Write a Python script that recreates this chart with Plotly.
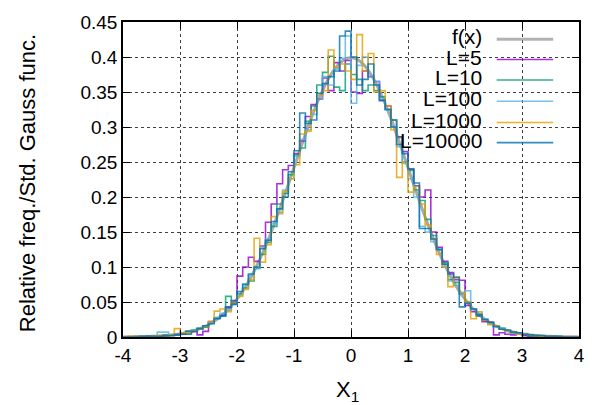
import plotly.graph_objects as go

# ---------------- data ----------------
bin_edges = [round(-4.0 + 0.1 * i, 1) for i in range(81)]

# standard Gauss function sampled at 0.1 steps (-4 ... 4)
f_x = bin_edges
f_y = [0.0001, 0.0002, 0.0003, 0.0004, 0.0006, 0.0009, 0.0012, 0.0017, 0.0024, 0.0033,
       0.0044, 0.0060, 0.0079, 0.0104, 0.0136, 0.0175, 0.0224, 0.0283, 0.0355, 0.0440,
       0.0540, 0.0656, 0.0790, 0.0940, 0.1109, 0.1295, 0.1497, 0.1714, 0.1942, 0.2179,
       0.2420, 0.2661, 0.2897, 0.3123, 0.3332, 0.3521, 0.3683, 0.3814, 0.3910, 0.3970,
       0.3989,
       0.3970, 0.3910, 0.3814, 0.3683, 0.3521, 0.3332, 0.3123, 0.2897, 0.2661, 0.2420,
       0.2179, 0.1942, 0.1714, 0.1497, 0.1295, 0.1109, 0.0940, 0.0790, 0.0656, 0.0540,
       0.0440, 0.0355, 0.0283, 0.0224, 0.0175, 0.0136, 0.0104, 0.0079, 0.0060, 0.0044,
       0.0033, 0.0024, 0.0017, 0.0012, 0.0009, 0.0006, 0.0004, 0.0003, 0.0002, 0.0001]

# relative frequency per bin (bin width 0.1, from -4 to 4)
L5 = [0.000, 0.000, 0.000, 0.000, 0.001, 0.001, 0.001, 0.002, 0.003, 0.004,
      0.004, 0.008, 0.008, 0.003, 0.008, 0.022, 0.027, 0.031, 0.043, 0.052,
      0.087, 0.100, 0.114, 0.108, 0.130, 0.164, 0.190, 0.219, 0.239, 0.245,
      0.262, 0.280, 0.315, 0.332, 0.340, 0.370, 0.352, 0.392, 0.380, 0.395,
      0.350, 0.348, 0.380, 0.372, 0.365, 0.338, 0.330, 0.310, 0.286, 0.265,
      0.240, 0.216, 0.200, 0.210, 0.150, 0.128, 0.108, 0.092, 0.082, 0.081,
      0.045, 0.036, 0.030, 0.022, 0.021, 0.003, 0.006, 0.004, 0.003, 0.005,
      0.002, 0.001, 0.001, 0.001, 0.000, 0.001, 0.000, 0.000, 0.000, 0.000]

L10 = [0.000, 0.000, 0.001, 0.000, 0.001, 0.001, 0.001, 0.002, 0.003, 0.003,
       0.006, 0.008, 0.010, 0.011, 0.014, 0.021, 0.027, 0.030, 0.058, 0.050,
       0.062, 0.070, 0.080, 0.098, 0.118, 0.135, 0.158, 0.190, 0.205, 0.232,
       0.260, 0.270, 0.308, 0.330, 0.360, 0.378, 0.401, 0.357, 0.352, 0.390,
       0.375, 0.368, 0.352, 0.360, 0.352, 0.343, 0.325, 0.310, 0.285, 0.250,
       0.238, 0.210, 0.195, 0.168, 0.145, 0.125, 0.106, 0.082, 0.078, 0.062,
       0.050, 0.040, 0.030, 0.024, 0.020, 0.015, 0.012, 0.009, 0.006, 0.005,
       0.004, 0.002, 0.002, 0.001, 0.001, 0.001, 0.000, 0.000, 0.000, 0.000]

L100 = [0.000, 0.000, 0.000, 0.001, 0.001, 0.001, 0.007, 0.007, 0.003, 0.004,
        0.006, 0.006, 0.010, 0.013, 0.016, 0.020, 0.028, 0.034, 0.038, 0.046,
        0.060, 0.076, 0.088, 0.098, 0.128, 0.140, 0.162, 0.178, 0.210, 0.226,
        0.258, 0.282, 0.296, 0.318, 0.340, 0.372, 0.360, 0.383, 0.398, 0.430,
        0.334, 0.388, 0.400, 0.372, 0.365, 0.338, 0.325, 0.300, 0.272, 0.248,
        0.226, 0.200, 0.158, 0.150, 0.136, 0.124, 0.100, 0.080, 0.074, 0.062,
        0.066, 0.040, 0.034, 0.026, 0.018, 0.016, 0.013, 0.008, 0.007, 0.004,
        0.005, 0.003, 0.002, 0.001, 0.001, 0.001, 0.001, 0.000, 0.000, 0.000]

L1000 = [0.000, 0.001, 0.000, 0.001, 0.000, 0.001, 0.002, 0.002, 0.003, 0.012,
         0.006, 0.006, 0.009, 0.011, 0.015, 0.022, 0.037, 0.040, 0.036, 0.048,
         0.058, 0.068, 0.082, 0.141, 0.107, 0.132, 0.172, 0.176, 0.208, 0.226,
         0.246, 0.290, 0.294, 0.324, 0.345, 0.352, 0.410, 0.385, 0.390, 0.380,
         0.368, 0.432, 0.380, 0.405, 0.350, 0.352, 0.330, 0.296, 0.228, 0.250,
         0.207, 0.215, 0.190, 0.160, 0.140, 0.118, 0.100, 0.072, 0.086, 0.064,
         0.050, 0.026, 0.036, 0.024, 0.018, 0.016, 0.011, 0.009, 0.007, 0.004,
         0.004, 0.003, 0.002, 0.001, 0.001, 0.001, 0.000, 0.000, 0.000, 0.000]

L10000 = [0.000, 0.000, 0.000, 0.001, 0.001, 0.001, 0.001, 0.002, 0.002, 0.003,
          0.004, 0.004, 0.008, 0.012, 0.016, 0.019, 0.026, 0.030, 0.042, 0.047,
          0.065, 0.075, 0.090, 0.100, 0.126, 0.138, 0.165, 0.183, 0.200, 0.236,
          0.266, 0.320, 0.305, 0.310, 0.348, 0.362, 0.372, 0.380, 0.430, 0.437,
          0.400, 0.360, 0.368, 0.390, 0.360, 0.338, 0.325, 0.300, 0.275, 0.262,
          0.240, 0.220, 0.155, 0.155, 0.140, 0.125, 0.104, 0.090, 0.085, 0.043,
          0.048, 0.040, 0.032, 0.025, 0.021, 0.015, 0.011, 0.010, 0.007, 0.006,
          0.004, 0.003, 0.002, 0.002, 0.001, 0.001, 0.001, 0.000, 0.000, 0.000]

series_names = ["L=5", "L=10", "L=100", "L=1000", "L=10000"]
series_values = [L5, L10, L100, L1000, L10000]
series_colors = ["#9400d3", "#009e73", "#56b4e9", "#e69f00", "#0072b2"]

x_ticks = [-4, -3, -2, -1, 0, 1, 2, 3, 4]
x_ticktext = ["-4", "-3", "-2", "-1", "0", "1", "2", "3", "4"]
y_ticks = [0, 0.05, 0.1, 0.15, 0.2, 0.25, 0.3, 0.35, 0.4, 0.45]
y_ticktext = ["0", "0.05", "0.1", "0.15", "0.2", "0.25", "0.3", "0.35", "0.4", "0.45"]

# ---------------- figure ----------------
FONT = "Liberation Sans, Arial, Helvetica, sans-serif"
W, H = 597, 405
ML, MT = 123, 15
PW, PH = 460, 322
MR, MB = W - ML - PW, H - MT - PH


def px_x(px):
    return (px - ML) / PW


def px_y(py):
    return 1 - (py - MT) / PH


fig = go.Figure()
fig.add_trace(go.Scatter(x=f_x, y=f_y, mode="lines", name="f(x)",
                         line=dict(color="#a0a0a0", width=3, shape="spline"),
                         opacity=0.9, showlegend=False))
for name, vals, col in zip(series_names, series_values, series_colors):
    fig.add_trace(go.Scatter(x=bin_edges, y=vals + [vals[-1]], mode="lines", name=name,
                             line=dict(color=col, width=1.6, shape="hv"),
                             opacity=0.8, showlegend=False))

# gnuplot-like key (text right-aligned, sample to the right)
key_rows_px = [32.7, 53.3, 74.3, 96.0, 117.7, 138.3]
key_names = ["f(x)"] + series_names
key_colors = ["#a0a0a0"] + series_colors
key_widths = [3] + [1.6] * 5
shapes = []
annotations = []
for py, nm, col, lw in zip(key_rows_px, key_names, key_colors, key_widths):
    annotations.append(dict(x=px_x(487), y=px_y(py - 2.5), xref="paper", yref="paper",
                            text=nm, showarrow=False, xanchor="right", yanchor="middle",
                            font=dict(family=FONT, size=21, color="black")))
    shapes.append(dict(type="line", xref="paper", yref="paper",
                       x0=px_x(500), x1=px_x(557), y0=px_y(py), y1=px_y(py),
                       line=dict(color=col, width=lw), opacity=0.8))

annotations.append(dict(x=px_x(349), y=px_y(376), xref="paper", yref="paper",
                        text="X<sub>1</sub>", showarrow=False, xanchor="center", yanchor="top",
                        font=dict(family=FONT, size=22, color="black")))
annotations.append(dict(x=px_x(27), y=px_y(180), xref="paper", yref="paper",
                        text="Relative freq./Std. Gauss func.", textangle=-90, showarrow=False,
                        xanchor="center", yanchor="middle",
                        font=dict(family=FONT, size=22, color="black")))

axis_common = dict(showline=True, linecolor="black", linewidth=1.5, mirror="allticks",
                   ticks="inside", ticklen=7, tickcolor="black", tickwidth=1,
                   showgrid=True, gridcolor="rgba(0,0,0,0.75)", griddash="dot", gridwidth=1,
                   zeroline=False, tickfont=dict(family=FONT, size=19, color="black"))

fig.update_layout(
    width=W, height=H,
    margin=dict(l=ML, r=MR, t=MT, b=MB),
    paper_bgcolor="white", plot_bgcolor="white",
    shapes=shapes, annotations=annotations,
    xaxis=dict(range=[-4, 4], tickvals=x_ticks, ticktext=x_ticktext, **axis_common),
    yaxis=dict(range=[0, 0.45], tickvals=y_ticks, ticktext=y_ticktext, **axis_common),
)

fig.write_html("out.html",
               config={"displayModeBar": False},
               post_script="document.body.style.margin='0px';document.body.style.overflow='hidden';")
